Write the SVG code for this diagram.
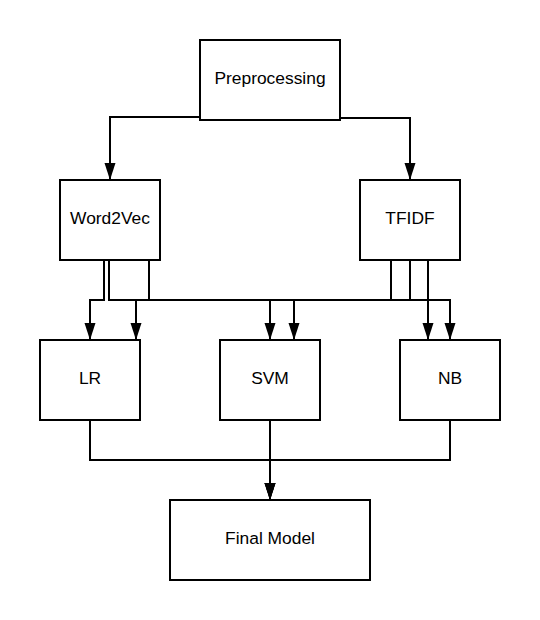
<svg xmlns="http://www.w3.org/2000/svg" width="540" height="620" viewBox="0 0 540 620">
<defs>
<marker id="arr" markerUnits="userSpaceOnUse" markerWidth="18" markerHeight="12" refX="17" refY="6" orient="auto">
<path d="M0,0.5 L17,6 L0,11.5 z" fill="#000"/>
</marker>
<style>
.box{fill:#fff;stroke:#000;stroke-width:2}
.lbl{font-family:"Liberation Sans",Arial,sans-serif;font-size:17.4px;fill:#000;text-anchor:middle}
.ln{fill:none;stroke:#000;stroke-width:2}
.a{marker-end:url(#arr)}
</style>
</defs>
<rect width="540" height="620" fill="#fff"/>
<g id="connectors">
<path class="ln a" d="M200 117 H110 V180"/>
<path class="ln a" d="M340 118 H410 V180"/>
<path class="ln a" d="M104 260 V300 H90 V340"/>
<path class="ln a" d="M149 260 V300 H270 V340"/>
<path class="ln a" d="M109 260 V300 H450 V340"/>
<path class="ln a" d="M391 260 V300 H136 V340"/>
<path class="ln a" d="M410 260 V300 H294 V340"/>
<path class="ln a" d="M428 260 V340"/>
<path class="ln a" d="M90 420 V460 H270 V500"/>
<path class="ln a" d="M450 420 V460 H270 V500"/>
<path class="ln a" d="M270 420 V500"/>
</g>
<g id="preprocessing"><rect class="box" x="200" y="40" width="140" height="80"/><text class="lbl" x="270" y="84">Preprocessing</text></g>
<g id="word2vec"><rect class="box" x="60" y="180" width="100" height="80"/><text class="lbl" x="110" y="224">Word2Vec</text></g>
<g id="tfidf"><rect class="box" x="360" y="180" width="100" height="80"/><text class="lbl" x="410" y="224">TFIDF</text></g>
<g id="lr"><rect class="box" x="40" y="340" width="100" height="80"/><text class="lbl" x="90" y="384">LR</text></g>
<g id="svm"><rect class="box" x="220" y="340" width="100" height="80"/><text class="lbl" x="270" y="384">SVM</text></g>
<g id="nb"><rect class="box" x="400" y="340" width="100" height="80"/><text class="lbl" x="450" y="384">NB</text></g>
<g id="final"><rect class="box" x="170" y="500" width="200" height="80"/><text class="lbl" x="270" y="544">Final Model</text></g>
</svg>
